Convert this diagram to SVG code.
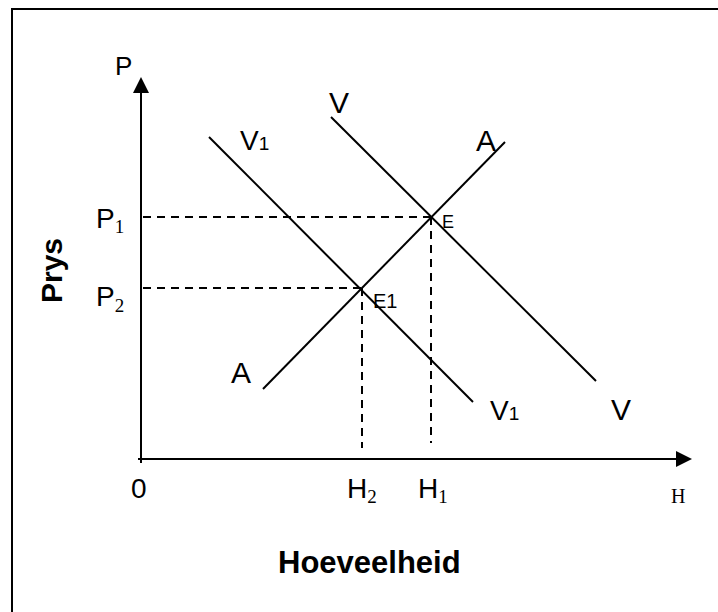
<svg xmlns="http://www.w3.org/2000/svg" width="718" height="612" viewBox="0 0 718 612">
<style>
.ln{stroke:#000;stroke-width:2;fill:none}
.ds{stroke:#000;stroke-width:2;fill:none;stroke-dasharray:8,6}
.t{font-family:"Liberation Sans",Arial,sans-serif;fill:#000}
.tm{font-family:"Liberation Serif","Times New Roman",serif}
.b{font-family:"Liberation Sans",Arial,sans-serif;font-weight:bold;fill:#000}
</style>
<rect x="0" y="0" width="718" height="612" fill="#fff"/>
<rect id="frame" x="12" y="9" width="720" height="620" fill="none" stroke="#000" stroke-width="2"/>
<g id="axes">
<line class="ln" x1="141" y1="463" x2="141" y2="90"/>
<polygon points="141,77 133,93 149,93" fill="#000"/>
<line class="ln" x1="138" y1="459" x2="678" y2="459"/>
<polygon points="692,459 676,451 676,467" fill="#000"/>
</g>
<g id="connectors">
<line class="ds" x1="143" y1="217" x2="431" y2="217"/>
<line class="ds" x1="143" y1="288" x2="362" y2="288"/>
<line class="ds" x1="431" y1="217" x2="431" y2="443"/>
<line class="ds" x1="362" y1="288" x2="362" y2="448"/>
</g>
<g id="curve-V"><line class="ln" x1="331" y1="117" x2="596" y2="381"/></g>
<g id="curve-V1"><line class="ln" x1="209" y1="137" x2="473" y2="402"/></g>
<g id="curve-A"><line class="ln" x1="263" y1="389" x2="505" y2="142"/></g>
<g id="labels">
<text class="t" x="115" y="75" font-size="26">P</text>
<text class="t" x="96" y="228" font-size="28">P<tspan class="tm" font-size="19" dy="5">1</tspan></text>
<text class="t" x="96" y="306" font-size="28">P<tspan class="tm" font-size="19" dy="6">2</tspan></text>
<text class="t" x="240" y="150" font-size="28">V<tspan font-size="19">1</tspan></text>
<text class="t" x="329" y="113" font-size="30">V</text>
<text class="t" x="476" y="151" font-size="30">A</text>
<text class="t" x="231" y="383" font-size="30">A</text>
<text class="t" x="490" y="420" font-size="28">V<tspan font-size="19">1</tspan></text>
<text class="t" x="611" y="420" font-size="30">V</text>
<text class="t" x="442" y="228" font-size="18">E</text>
<text class="t" x="373" y="308" font-size="20">E1</text>
<text class="t" x="131" y="498" font-size="28">0</text>
<text class="t" x="347" y="498" font-size="28">H<tspan class="tm" font-size="19" dy="5">2</tspan></text>
<text class="t" x="418" y="498" font-size="28">H<tspan class="tm" font-size="19" dy="5">1</tspan></text>
<text class="t tm" x="671" y="503" font-size="20">H</text>
<text class="b" x="278" y="573" font-size="31">Hoeveelheid</text>
<text class="b" transform="translate(62,303) rotate(-90)" font-size="30">Prys</text>
</g>
</svg>
